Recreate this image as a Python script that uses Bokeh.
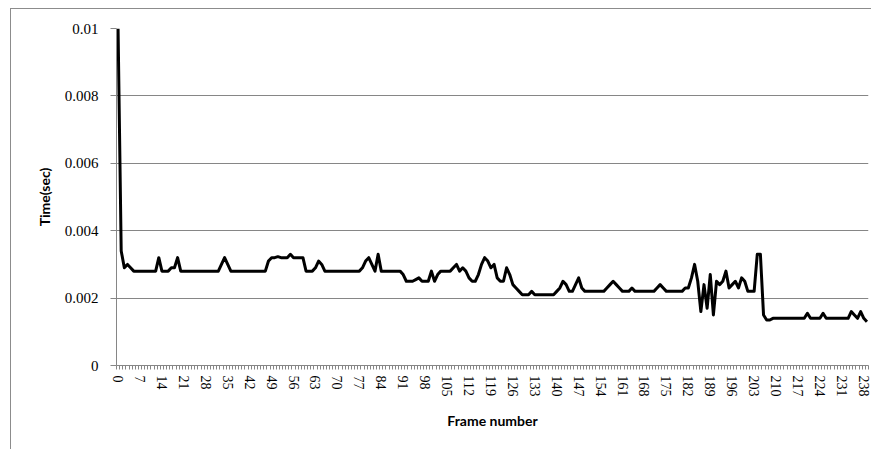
from bokeh.plotting import figure
from bokeh.models import Range1d, FixedTicker, CustomJSTickFormatter
from bokeh.embed import file_html
from bokeh.resources import INLINE

# ---- data ----
frames = list(range(240))
times = [
    # 0-9
    0.0100, 0.0034, 0.0029, 0.0030, 0.0029, 0.0028, 0.0028, 0.0028, 0.0028, 0.0028,
    # 10-19
    0.0028, 0.0028, 0.0028, 0.0032, 0.0028, 0.0028, 0.0028, 0.0029, 0.0029, 0.0032,
    # 20-29
    0.0028, 0.0028, 0.0028, 0.0028, 0.0028, 0.0028, 0.0028, 0.0028, 0.0028, 0.0028,
    # 30-39
    0.0028, 0.0028, 0.0028, 0.0030, 0.0032, 0.0030, 0.0028, 0.0028, 0.0028, 0.0028,
    # 40-49
    0.0028, 0.0028, 0.0028, 0.0028, 0.0028, 0.0028, 0.0028, 0.0028, 0.0031, 0.0032,
    # 50-59
    0.0032, 0.00323, 0.0032, 0.0032, 0.0032, 0.0033, 0.0032, 0.0032, 0.0032, 0.0032,
    # 60-69
    0.0028, 0.0028, 0.0028, 0.0029, 0.0031, 0.0030, 0.0028, 0.0028, 0.0028, 0.0028,
    # 70-79
    0.0028, 0.0028, 0.0028, 0.0028, 0.0028, 0.0028, 0.0028, 0.0028, 0.0029, 0.0031,
    # 80-89
    0.0032, 0.0030, 0.0028, 0.0033, 0.0028, 0.0028, 0.0028, 0.0028, 0.0028, 0.0028,
    # 90-99
    0.0028, 0.0027, 0.0025, 0.0025, 0.0025, 0.00255, 0.0026, 0.0025, 0.0025, 0.0025,
    # 100-109
    0.0028, 0.0025, 0.0027, 0.0028, 0.0028, 0.0028, 0.0028, 0.0029, 0.0030, 0.0028,
    # 110-119
    0.0029, 0.0028, 0.0026, 0.0025, 0.0025, 0.0027, 0.0030, 0.0032, 0.0031, 0.0029,
    # 120-129
    0.0030, 0.0026, 0.0025, 0.0025, 0.0029, 0.0027, 0.0024, 0.0023, 0.0022, 0.0021,
    # 130-139
    0.0021, 0.0021, 0.0022, 0.0021, 0.0021, 0.0021, 0.0021, 0.0021, 0.0021, 0.0021,
    # 140-149
    0.0022, 0.0023, 0.0025, 0.0024, 0.0022, 0.0022, 0.0024, 0.0026, 0.0023, 0.0022,
    # 150-159
    0.0022, 0.0022, 0.0022, 0.0022, 0.0022, 0.0022, 0.0023, 0.0024, 0.0025, 0.0024,
    # 160-169
    0.0023, 0.0022, 0.0022, 0.0022, 0.0023, 0.0022, 0.0022, 0.0022, 0.0022, 0.0022,
    # 170-179
    0.0022, 0.0022, 0.0023, 0.0024, 0.0023, 0.0022, 0.0022, 0.0022, 0.0022, 0.0022,
    # 180-189
    0.0022, 0.0023, 0.0023, 0.0026, 0.0030, 0.0025, 0.0016, 0.0024, 0.0017, 0.0027,
    # 190-199
    0.0015, 0.0025, 0.0024, 0.0025, 0.0028, 0.0023, 0.0024, 0.0025, 0.0023, 0.0026,
    # 200-209
    0.0025, 0.0022, 0.0022, 0.0022, 0.0033, 0.0033, 0.0015, 0.00135, 0.00135, 0.0014,
    # 210-219
    0.0014, 0.0014, 0.0014, 0.0014, 0.0014, 0.0014, 0.0014, 0.0014, 0.0014, 0.0014,
    # 220-229
    0.00155, 0.0014, 0.0014, 0.0014, 0.0014, 0.00155, 0.0014, 0.0014, 0.0014, 0.0014,
    # 230-239
    0.0014, 0.0014, 0.0014, 0.0014, 0.0016, 0.0015, 0.0014, 0.0016, 0.0014, 0.0013,
]
x_tick_labels = list(range(0, 240, 7))
y_ticks = [0, 0.002, 0.004, 0.006, 0.008, 0.01]

GREY = "#868686"

p = figure(
    width=861, height=441,
    output_backend="svg", toolbar_location=None,
    x_range=Range1d(-0.5, 239.5), y_range=Range1d(0, 0.01),
    min_border_left=105, min_border_right=4, min_border_top=19, min_border_bottom=85,
    styles={"margin-left": "10px", "margin-top": "8px",
            "border-left": "1px solid #8c8c8c", "border-top": "1px solid #8c8c8c"},
)
p.outline_line_color = None
p.background_fill_color = "white"
p.border_fill_color = "white"

p.line(frames, times, line_color="black", line_width=3, line_join="round")

# x axis
xa = p.xaxis[0]
xa.ticker = FixedTicker(ticks=x_tick_labels, minor_ticks=[i - 0.5 for i in range(241)])
xa.major_label_orientation = "vertical"
xa.major_tick_out = 0
xa.major_tick_in = 0
xa.minor_tick_out = 4
xa.minor_tick_in = 0
xa.minor_tick_line_color = GREY
xa.axis_line_color = GREY
xa.major_label_text_font = "Liberation Serif"
xa.major_label_text_font_size = "14px"
xa.major_label_text_color = "black"
xa.major_label_standoff = 6
xa.axis_label = "Frame number"
xa.axis_label_text_font = "Lato"
xa.axis_label_text_font_style = "bold"
xa.axis_label_text_font_size = "14px"
xa.axis_label_text_color = "black"
xa.axis_label_standoff = 12

# y axis
ya = p.yaxis[0]
ya.ticker = FixedTicker(ticks=y_ticks)
ya.formatter = CustomJSTickFormatter(code="return tick === 0 ? '0' : parseFloat(tick.toFixed(3)).toString();")
ya.major_tick_out = 6
ya.major_tick_in = 0
ya.major_tick_line_color = GREY
ya.minor_tick_line_color = None
ya.axis_line_color = GREY
ya.major_label_text_font = "Liberation Serif"
ya.major_label_text_font_size = "15px"
ya.major_label_text_color = "black"
ya.major_label_standoff = 12
ya.axis_label = "Time(sec)"
ya.axis_label_text_font = "Lato"
ya.axis_label_text_font_style = "bold"
ya.axis_label_text_font_size = "14px"
ya.axis_label_text_color = "black"
ya.axis_label_standoff = 9

p.xgrid.grid_line_color = None
p.ygrid.grid_line_color = GREY
p.ygrid.grid_line_width = 1

open("out.html", "w").write(file_html(p, INLINE))
